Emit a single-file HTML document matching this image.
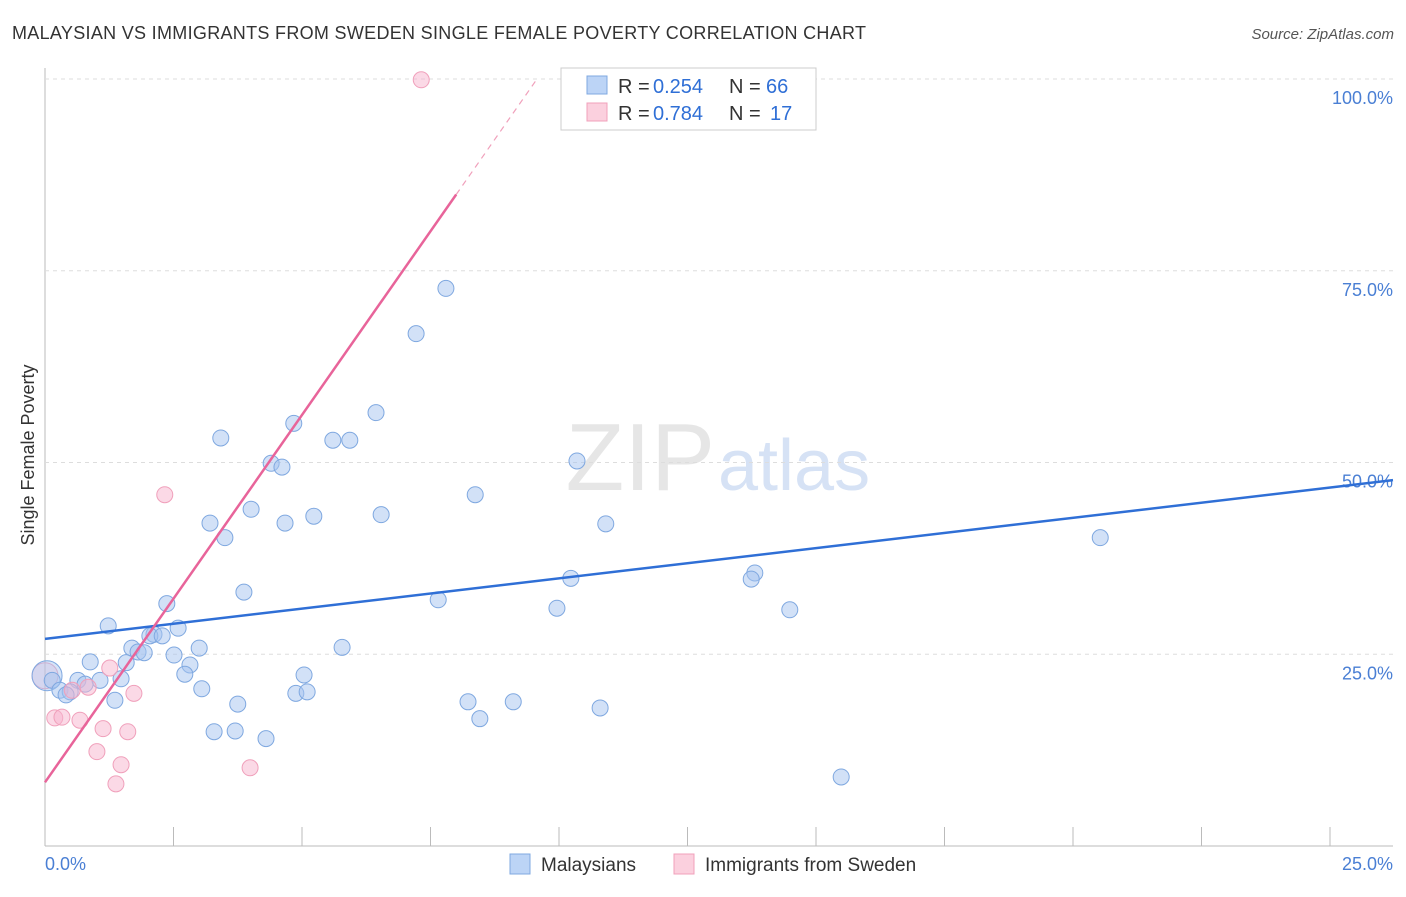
<!DOCTYPE html>
<html><head><meta charset="utf-8"><style>
body{margin:0;background:#fff;font-family:"Liberation Sans",sans-serif;}
svg text{font-family:"Liberation Sans",sans-serif;}
</style></head><body>
<svg id="chart" width="1406" height="892">
<text x="12" y="39" font-size="18" fill="#333" textLength="854" lengthAdjust="spacing">MALAYSIAN VS IMMIGRANTS FROM SWEDEN SINGLE FEMALE POVERTY CORRELATION CHART</text>
<text x="1394" y="39" font-size="15" fill="#555" text-anchor="end" font-style="italic">Source: ZipAtlas.com</text>
<text x="715" y="490" font-size="96" fill="#e6e6e6" text-anchor="end" font-family="Liberation Serif">ZIP</text>
<text x="718" y="490" font-size="72" fill="#d6e2f5">atlas</text>
<text transform="translate(34,455) rotate(-90)" font-size="18" fill="#333" text-anchor="middle">Single Female Poverty</text>
<g id="grid"></g><g id="marks"></g>
<g>
<rect x="561" y="68" width="255" height="62" fill="#fff" stroke="#ccc"/>
<rect x="587" y="76" width="20" height="18" fill="#bcd4f6" stroke="#7fa8e0"/>
<rect x="587" y="103" width="20" height="18" fill="#fbd0de" stroke="#f0a0bb"/>
<text x="618" y="93" font-size="20" fill="#333">R =</text><text x="653" y="93" font-size="20" fill="#2f6fd6">0.254</text>
<text x="729" y="93" font-size="20" fill="#333">N =</text><text x="766" y="93" font-size="20" fill="#2f6fd6">66</text>
<text x="618" y="120" font-size="20" fill="#333">R =</text><text x="653" y="120" font-size="20" fill="#2f6fd6">0.784</text>
<text x="729" y="120" font-size="20" fill="#333">N =</text><text x="770" y="120" font-size="20" fill="#2f6fd6">17</text>
</g>
<g>
<rect x="510" y="854" width="20" height="20" fill="#bcd4f6" stroke="#7fa8e0"/>
<text x="541" y="871" font-size="19" fill="#333">Malaysians</text>
<rect x="674" y="854" width="20" height="20" fill="#fbd0de" stroke="#f0a0bb"/>
<text x="705" y="871" font-size="19" fill="#333">Immigrants from Sweden</text>
</g>
</svg>
<script>
const yTicks=[25,50,75,100];
const xTickCount=[0,2.5,5,7.5,10,12.5,15,17.5,20,22.5,25];
const blueX=[7.80,7.22,6.44,4.84,3.42,5.60,5.93,4.40,4.61,10.35,8.37,4.01,5.23,6.54,3.21,4.67,10.91,3.50,20.53,13.81,13.74,10.23,3.87,7.65,9.96,14.49,2.37,1.23,2.59,2.12,2.04,2.28,1.69,5.78,3.00,1.81,1.93,2.51,0.88,1.58,2.82,2.72,5.04,0.14,0.64,1.07,1.48,0.78,0.29,0.49,3.05,4.88,5.10,0.41,1.36,3.75,8.23,9.11,10.80,8.46,3.29,3.70,4.30,15.49];
const blueY=[72.7,66.8,56.5,55.1,53.2,52.9,52.9,49.9,49.4,50.2,45.8,43.9,43.0,43.2,42.1,42.1,42.0,40.2,40.2,35.6,34.8,34.9,33.1,32.1,31.0,30.8,31.6,28.7,28.4,27.6,27.4,27.4,25.8,25.9,25.8,25.3,25.2,24.9,24.0,23.9,23.6,22.4,22.3,21.6,21.6,21.6,21.8,21.1,20.3,20.1,20.5,19.9,20.1,19.7,19.0,18.5,18.8,18.8,18.0,16.6,14.9,15.0,14.0,9.0];
const pinkX=[7.32,2.33,1.26,0.84,0.53,1.73,0.19,0.33,0.68,1.13,1.61,1.01,1.48,3.99,1.38];
const pinkY=[99.9,45.8,23.2,20.7,20.3,19.9,16.7,16.8,16.4,15.3,14.9,12.3,10.6,10.2,8.1];
const bigX=[0.04,0.0];const bigY=[22.2,22.2];
const blueFit=[27.0,47.7]; const pinkFit=[8.3,9.58];
const X=v=>45+v*51.4, Y=v=>846-v*7.67;
const NS="http://www.w3.org/2000/svg";
function mk(t,a,p){const e=document.createElementNS(NS,t);for(const k in a)e.setAttribute(k,a[k]);p.appendChild(e);return e;}
const g=document.getElementById('grid'),m=document.getElementById('marks');
let ax=mk('line',{x1:45,y1:68,x2:45,y2:846,stroke:'#bbb'},g);


let xa=mk('line',{x1:45,y1:846,x2:1393,y2:846,stroke:'#bbb'},g);


yTicks.forEach(v=>{const l=mk('line',{x1:45,x2:1393,y1:Y(v),y2:Y(v),stroke:'#ddd','stroke-dasharray':'4,4'},g);


const t=mk('text',{x:1393,y:Y(v)+25,'font-size':18,fill:'#4a7fd4','text-anchor':'end'},g);t.textContent=v.toFixed(1)+'%';

});
xTickCount.forEach(v=>{const l=mk('line',{x1:X(v),x2:X(v),y1:827,y2:846,stroke:'#bbb'},g);

});
let t0=mk('text',{x:45,y:870,'font-size':18,fill:'#4a7fd4'},g);t0.textContent='0.0%';


let t1=mk('text',{x:1393,y:870,'font-size':18,fill:'#4a7fd4','text-anchor':'end'},g);t1.textContent='25.0%';


function dot(x,y,r,f,s){const c=mk('circle',{cx:X(x),cy:Y(y),r:r,fill:f,stroke:s,'stroke-width':1},m);return c;}
let b2=dot(bigX[1],bigY[1],13,'rgba(248,180,205,0.35)','#f0a0bb');


let b1=dot(bigX[0],bigY[0],15,'rgba(165,195,240,0.45)','#7fa8e0');


blueX.forEach((x,i)=>{const c=dot(x,blueY[i],8,'rgba(165,195,240,0.5)','#7fa8e0');

});
pinkX.forEach((x,i)=>{const c=dot(x,pinkY[i],8,'rgba(248,180,205,0.5)','#f0a0bb');

});
const xe=1348/51.4;
let bl=mk('line',{x1:X(0),y1:Y(blueFit[0]),x2:X(xe),y2:Y(blueFit[1]),stroke:'#2f6fd6','stroke-width':2.5},m);


const pf=x=>pinkFit[0]+pinkFit[1]*x;
let pl=mk('line',{x1:X(0),y1:Y(pf(0)),x2:X(8.0),y2:Y(pf(8.0)),stroke:'#e8649a','stroke-width':2.5},m);


let pd=mk('line',{x1:X(8.0),y1:Y(pf(8.0)),x2:X(9.55),y2:Y(pf(9.55)),stroke:'#f0a0bb','stroke-width':1.2,'stroke-dasharray':'6,5'},m);


</script>
</body></html>
